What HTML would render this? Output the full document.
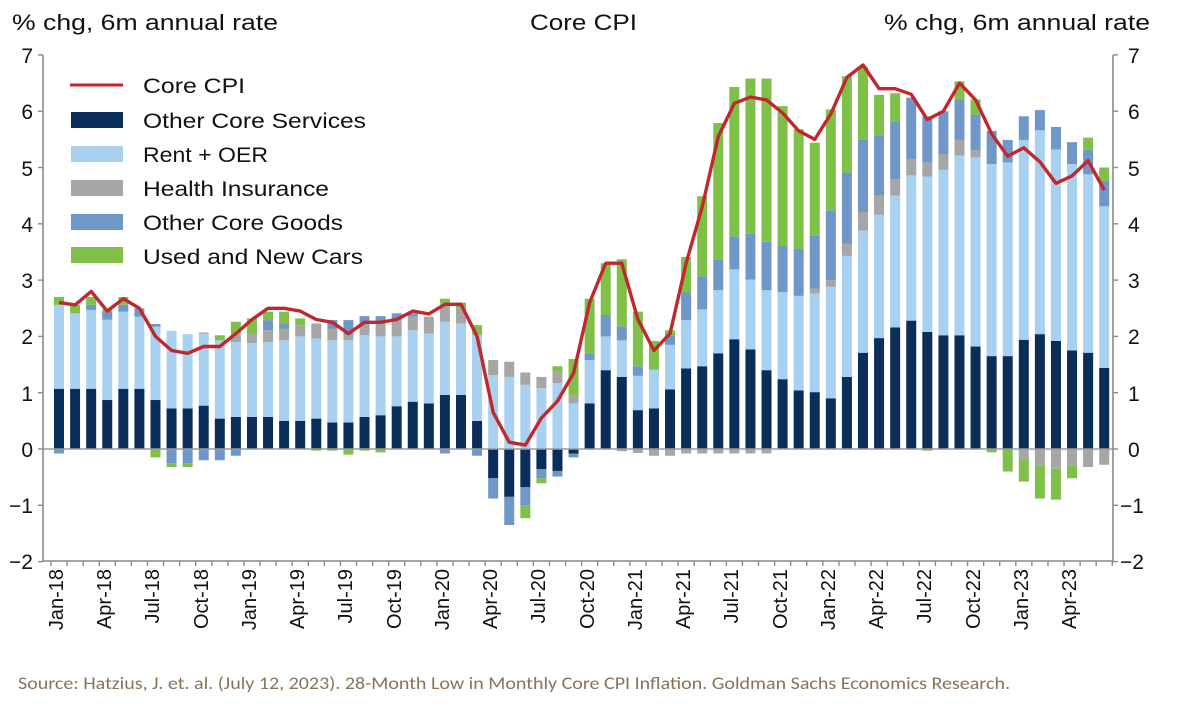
<!DOCTYPE html>
<html><head><meta charset="utf-8">
<style>
html,body{margin:0;padding:0;background:#fff;}
svg{display:block;font-family:"Liberation Sans",Arial,sans-serif;}
</style></head>
<body>
<svg id="c" width="1200" height="706" viewBox="0 0 1200 706" xmlns="http://www.w3.org/2000/svg">
<rect width="1200" height="706" fill="#fff"/>
<g id="bars"></g>
<line x1="43" y1="449" x2="1113" y2="449" stroke="#9a9a9a" stroke-width="1.5"/>
<polyline id="line" fill="none" stroke="#c0282d" stroke-width="3.4" stroke-linejoin="round"/>
<g stroke="#8a8a8a" stroke-width="1.6" id="axes">
<line x1="43" y1="55" x2="43" y2="561"/>
<line x1="1113" y1="55" x2="1113" y2="561"/>
<line x1="43" y1="561" x2="1113" y2="561"/>
</g>
<g id="ticks" stroke="#8a8a8a" stroke-width="1.4"></g>
<g font-size="22" fill="#111">
<text x="12" y="30" textLength="266" lengthAdjust="spacingAndGlyphs">% chg, 6m annual rate</text>
<text x="530" y="30" textLength="107" lengthAdjust="spacingAndGlyphs">Core CPI</text>
<text x="884" y="30" textLength="266" lengthAdjust="spacingAndGlyphs">% chg, 6m annual rate</text>
</g>
<g font-size="21" fill="#111" text-anchor="end">
<text x="33" y="63">7</text><text x="33" y="119">6</text><text x="33" y="176">5</text><text x="33" y="232">4</text>
<text x="33" y="288">3</text><text x="33" y="344">2</text><text x="33" y="401">1</text><text x="33" y="457">0</text>
<text x="33" y="513">−1</text><text x="33" y="569">−2</text>
</g>
<g font-size="21" fill="#111" text-anchor="start">
<text x="1128" y="63">7</text><text x="1128" y="119">6</text><text x="1128" y="176">5</text><text x="1128" y="232">4</text>
<text x="1128" y="288">3</text><text x="1128" y="344">2</text><text x="1128" y="401">1</text><text x="1128" y="457">0</text>
<text x="1120" y="513">−1</text><text x="1120" y="569">−2</text>
</g>
<g font-size="20" fill="#111" text-anchor="end">
<text transform="translate(63,569) rotate(-90)">Jan-18</text>
<text transform="translate(111,569) rotate(-90)">Apr-18</text>
<text transform="translate(159,569) rotate(-90)">Jul-18</text>
<text transform="translate(208,569) rotate(-90)">Oct-18</text>
<text transform="translate(256,569) rotate(-90)">Jan-19</text>
<text transform="translate(304,569) rotate(-90)">Apr-19</text>
<text transform="translate(352,569) rotate(-90)">Jul-19</text>
<text transform="translate(401,569) rotate(-90)">Oct-19</text>
<text transform="translate(449,569) rotate(-90)">Jan-20</text>
<text transform="translate(497,569) rotate(-90)">Apr-20</text>
<text transform="translate(545,569) rotate(-90)">Jul-20</text>
<text transform="translate(594,569) rotate(-90)">Oct-20</text>
<text transform="translate(642,569) rotate(-90)">Jan-21</text>
<text transform="translate(690,569) rotate(-90)">Apr-21</text>
<text transform="translate(738,569) rotate(-90)">Jul-21</text>
<text transform="translate(787,569) rotate(-90)">Oct-21</text>
<text transform="translate(835,569) rotate(-90)">Jan-22</text>
<text transform="translate(883,569) rotate(-90)">Apr-22</text>
<text transform="translate(931,569) rotate(-90)">Jul-22</text>
<text transform="translate(980,569) rotate(-90)">Oct-22</text>
<text transform="translate(1028,569) rotate(-90)">Jan-23</text>
<text transform="translate(1076,569) rotate(-90)">Apr-23</text>
</g>
<g font-size="21" fill="#111">
<line x1="70" y1="85" x2="123" y2="85" stroke="#c0282d" stroke-width="3"/>
<rect x="71" y="112" width="52" height="16" fill="#0a2d5a"/>
<rect x="71" y="146" width="52" height="16" fill="#a9d1ef"/>
<rect x="71" y="180" width="52" height="16" fill="#a6a6a6"/>
<rect x="71" y="214" width="52" height="16" fill="#6f98c8"/>
<rect x="71" y="247" width="52" height="16" fill="#80c048"/>
<text x="143" y="93" textLength="102" lengthAdjust="spacingAndGlyphs">Core CPI</text>
<text x="143" y="128" textLength="223" lengthAdjust="spacingAndGlyphs">Other Core Services</text>
<text x="143" y="162" textLength="125" lengthAdjust="spacingAndGlyphs">Rent + OER</text>
<text x="143" y="196" textLength="186" lengthAdjust="spacingAndGlyphs">Health Insurance</text>
<text x="143" y="230" textLength="200" lengthAdjust="spacingAndGlyphs">Other Core Goods</text>
<text x="143" y="264" textLength="220" lengthAdjust="spacingAndGlyphs">Used and New Cars</text>
</g>
<text x="18" y="689" font-size="17" fill="#8a7259" textLength="992" lengthAdjust="spacingAndGlyphs" font-family="Carlito,'Liberation Sans',sans-serif">Source: Hatzius, J. et. al. (July 12, 2023). 28-Month Low in Monthly Core CPI Inflation. Goldman Sachs Economics Research.</text>
</svg>
<script>
var D=[
[1.07,2.56,2.56,2.56,2.70,0,0,-0.08,-0.08,2.6],
[1.07,2.41,2.41,2.41,2.56,0,0,0,0,2.56],
[1.07,2.47,2.47,2.56,2.70,0,0,0,0,2.8],
[0.87,2.29,2.31,2.45,2.48,0,0,0,0,2.45],
[1.07,2.44,2.44,2.56,2.70,0,0,0,0,2.67],
[1.07,2.35,2.35,2.50,2.50,0,0,0,0,2.5],
[0.87,2.17,2.17,2.22,2.22,0,0,0,-0.15,2.0],
[0.72,2.10,2.10,2.10,2.10,0,0,-0.25,-0.32,1.75],
[0.72,2.04,2.04,2.04,2.04,0,0,-0.25,-0.32,1.7],
[0.77,2.05,2.07,2.07,2.07,0,0,-0.2,-0.2,1.82],
[0.54,1.93,1.93,1.93,2.02,0,0,-0.2,-0.2,1.82],
[0.57,1.90,2.05,2.05,2.26,0,0,-0.12,-0.12,2.05],
[0.57,1.88,2.05,2.05,2.32,0,0,0,0,2.3],
[0.57,1.90,2.11,2.29,2.44,0,0,0,0,2.5],
[0.50,1.93,2.14,2.23,2.44,0,0,0,0,2.5],
[0.50,2.00,2.20,2.20,2.32,0,0,0,0,2.45],
[0.54,1.96,2.23,2.23,2.23,0,0,0,-0.03,2.3],
[0.47,1.93,2.14,2.29,2.29,0,0,0,-0.03,2.25],
[0.47,1.93,2.02,2.29,2.29,0,0,0,-0.1,2.05],
[0.57,2.02,2.23,2.36,2.36,0,0,0,-0.03,2.25],
[0.60,2.00,2.23,2.36,2.36,0,0,0,-0.06,2.25],
[0.76,2.00,2.29,2.41,2.41,0,0,0,0,2.3],
[0.84,2.11,2.35,2.41,2.41,0,0,0,0,2.45],
[0.81,2.05,2.35,2.35,2.35,0,0,0,0,2.4],
[0.96,2.26,2.59,2.59,2.67,0,0,-0.08,-0.08,2.57],
[0.96,2.23,2.50,2.50,2.60,0,0,0,0,2.57],
[0.50,2.02,2.05,2.05,2.20,0,0,-0.12,-0.12,2.0],
[0,1.31,1.58,1.58,1.58,-0.52,-0.52,-0.88,-0.88,0.65],
[0,1.28,1.55,1.55,1.55,-0.85,-0.85,-1.35,-1.35,0.12],
[0,1.14,1.36,1.36,1.36,-0.68,-0.68,-1.0,-1.23,0.07],
[0,1.08,1.28,1.28,1.28,-0.36,-0.36,-0.52,-0.61,0.55],
[0,1.17,1.37,1.37,1.47,-0.39,-0.39,-0.49,-0.49,0.85],
[0,0.81,0.96,0.96,1.60,-0.08,-0.08,-0.15,-0.15,1.35],
[0.81,1.58,1.58,1.70,2.67,0,0,0,0,2.6],
[1.40,2.00,2.00,2.38,3.30,0,0,0,0,3.3],
[1.28,1.93,1.93,2.18,3.37,0,-0.04,-0.04,-0.04,3.3],
[0.69,1.30,1.30,1.47,2.44,0,-0.07,-0.07,-0.07,2.3],
[0.72,1.41,1.41,1.41,1.92,0,-0.12,-0.12,-0.12,1.75],
[1.06,1.85,1.85,2.02,2.11,0,-0.12,-0.12,-0.12,2.05],
[1.43,2.29,2.29,2.78,3.41,0,-0.08,-0.08,-0.08,3.3],
[1.47,2.48,2.48,3.07,4.49,0,-0.08,-0.08,-0.08,4.3],
[1.70,2.82,2.82,3.37,5.79,0,-0.08,-0.08,-0.08,5.55],
[1.95,3.19,3.19,3.78,6.43,0,-0.08,-0.08,-0.08,6.14],
[1.77,3.01,3.01,3.82,6.58,0,-0.08,-0.08,-0.08,6.25],
[1.40,2.82,2.82,3.68,6.58,0,-0.08,-0.08,-0.08,6.2],
[1.24,2.79,2.79,3.62,6.09,0,0,0,0,5.97],
[1.04,2.72,2.72,3.56,5.68,0,0,0,0,5.65],
[1.01,2.76,2.85,3.79,5.44,0,0,0,0,5.5],
[0.90,2.88,3.00,4.24,6.03,0,0,0,0,5.95],
[1.28,3.43,3.65,4.91,6.62,0,0,0,0,6.6],
[1.71,3.88,4.21,5.49,6.79,0,0,0,0,6.82],
[1.97,4.16,4.50,5.57,6.29,0,0,0,0,6.4],
[2.16,4.50,4.79,5.82,6.32,0,0,0,0,6.4],
[2.28,4.86,5.15,6.24,6.24,0,0,0,0,6.3],
[2.08,4.84,5.09,5.91,5.91,0,0,0,-0.03,5.85],
[2.02,4.96,5.24,6.00,6.00,0,0,0,0,6.0],
[2.02,5.21,5.49,6.21,6.53,0,0,0,0,6.5],
[1.82,5.18,5.31,5.94,6.21,0,0,0,0,6.2],
[1.65,5.06,5.06,5.65,5.65,0,0,0,-0.06,5.6],
[1.65,5.09,5.09,5.49,5.49,0,0,0,-0.4,5.2],
[1.94,5.49,5.49,5.91,5.91,0,-0.18,-0.18,-0.58,5.35],
[2.04,5.66,5.66,6.02,6.02,0,-0.3,-0.3,-0.88,5.1],
[1.92,5.32,5.32,5.72,5.72,0,-0.35,-0.35,-0.9,4.72],
[1.75,5.06,5.06,5.45,5.45,0,-0.3,-0.3,-0.52,4.85],
[1.71,4.88,4.88,5.31,5.53,0,-0.32,-0.32,-0.32,5.12],
[1.44,4.31,4.31,4.76,5.0,0,-0.28,-0.28,-0.28,4.6]];
var C=["#0a2d5a","#a9d1ef","#a6a6a6","#6f98c8","#80c048"];
var NC=["#0a2d5a","#a6a6a6","#6f98c8","#80c048"];
var Z=449,U=56.3,W=10,ns="http://www.w3.org/2000/svg";
var g=document.getElementById("bars"),pts=[];
function R(x,a,b,col){var y1=Z-a*U,y2=Z-b*U;var t=Math.min(y1,y2),h=Math.abs(y2-y1);if(h<0.3)return;
var r=document.createElementNS(ns,"rect");r.setAttribute("x",x-W/2);r.setAttribute("y",t);r.setAttribute("width",W);r.setAttribute("height",h);r.setAttribute("fill",col);g.appendChild(r);}
for(var i=0;i<D.length;i++){var d=D[i],x=59+i*16.08;var p=0;
for(var k=0;k<5;k++){R(x,p,d[k],C[k]);p=Math.max(p,d[k]);}
var n=0;for(var k=0;k<4;k++){R(x,n,d[5+k],NC[k]);n=Math.min(n,d[5+k]);}
pts.push(x.toFixed(1)+","+(Z-d[9]*U).toFixed(1));}
document.getElementById("line").setAttribute("points",pts.join(" "));
var t=document.getElementById("ticks");
for(var i=0;i<=66;i++){var x=51+i*16.08;var l=document.createElementNS(ns,"line");l.setAttribute("x1",x);l.setAttribute("x2",x);l.setAttribute("y1",561);l.setAttribute("y2",566);t.appendChild(l);}
for(var v=-2;v<=7;v++){var y=Z-v*U;[[38,43],[1113,1118]].forEach(function(a){var l=document.createElementNS(ns,"line");l.setAttribute("x1",a[0]);l.setAttribute("x2",a[1]);l.setAttribute("y1",y);l.setAttribute("y2",y);t.appendChild(l);});}
</script>
</body></html>
